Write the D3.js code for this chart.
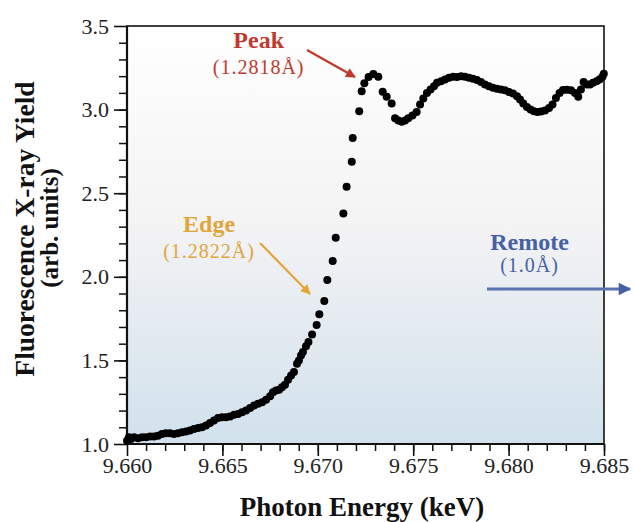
<!DOCTYPE html>
<html>
<head>
<meta charset="utf-8">
<script src="https://cdn.jsdelivr.net/npm/d3@7"></script>
<style>
  body { margin: 0; background: #fff; }
  text { font-family: "Liberation Serif", "DejaVu Serif", serif; }
</style>
</head>
<body>
<div id="chart"></div>
<script>
// photon energy (keV) and fluorescence yield
var energy = [9.66000, 9.66010, 9.66021, 9.66037, 9.66058, 9.66079, 9.66100, 9.66121, 9.66142, 9.66162,
  9.66183, 9.66204, 9.66225, 9.66246, 9.66267, 9.66288, 9.66309, 9.66330, 9.66351, 9.66372,
  9.66393, 9.66414, 9.66435, 9.66456, 9.66477, 9.66498, 9.66519, 9.66540, 9.66561, 9.66582,
  9.66603, 9.66624, 9.66645, 9.66666, 9.66687, 9.66708, 9.66729, 9.66750, 9.66765, 9.66781,
  9.66797, 9.66812, 9.66828, 9.66844, 9.66860, 9.66875, 9.66891, 9.66901, 9.66912, 9.66922,
  9.66938, 9.66951, 9.66970, 9.66994, 9.67008, 9.67034, 9.67050, 9.67078, 9.67094, 9.67134,
  9.67151, 9.67178, 9.67183, 9.67217, 9.67230, 9.67244, 9.67266, 9.67291, 9.67317, 9.67340,
  9.67361, 9.67387, 9.67405, 9.67422, 9.67440, 9.67457, 9.67474, 9.67496, 9.67518, 9.67536,
  9.67553, 9.67572, 9.67591, 9.67609, 9.67625, 9.67646, 9.67667, 9.67688, 9.67709, 9.67730,
  9.67751, 9.67771, 9.67792, 9.67813, 9.67834, 9.67855, 9.67876, 9.67897, 9.67918, 9.67939,
  9.67960, 9.67981, 9.68002, 9.68023, 9.68044, 9.68060, 9.68077, 9.68096, 9.68115, 9.68133,
  9.68151, 9.68170, 9.68191, 9.68212, 9.68230, 9.68248, 9.68267, 9.68285, 9.68306, 9.68327,
  9.68348, 9.68365, 9.68379, 9.68393, 9.68411, 9.68427, 9.68442, 9.68461, 9.68476, 9.68492,
  9.68499];

var yieldVals = [1.02, 1.04, 1.03, 1.04, 1.035, 1.04, 1.04, 1.045, 1.045, 1.05,
  1.06, 1.065, 1.065, 1.06, 1.065, 1.07, 1.075, 1.08, 1.09, 1.095,
  1.10, 1.11, 1.125, 1.14, 1.155, 1.16, 1.16, 1.165, 1.175, 1.18,
  1.19, 1.20, 1.215, 1.23, 1.24, 1.25, 1.265, 1.285, 1.31, 1.32,
  1.325, 1.34, 1.355, 1.385, 1.41, 1.43, 1.48, 1.50, 1.53, 1.55,
  1.585, 1.61, 1.655, 1.712, 1.776, 1.855, 1.981, 2.094, 2.234, 2.379,
  2.539, 2.688, 2.83, 2.99, 3.11, 3.157, 3.195, 3.213, 3.197, 3.107,
  3.077, 3.037, 2.948, 2.935, 2.928, 2.935, 2.948, 2.965, 2.985, 3.03,
  3.067, 3.10, 3.12, 3.14, 3.16, 3.17, 3.18, 3.19, 3.197, 3.195,
  3.20, 3.197, 3.19, 3.185, 3.177, 3.165, 3.15, 3.14, 3.13, 3.125,
  3.12, 3.115, 3.105, 3.097, 3.08, 3.06, 3.037, 3.015, 3.00, 2.99,
  2.985, 2.988, 2.995, 3.01, 3.03, 3.07, 3.10, 3.117, 3.118, 3.115,
  3.10, 3.077, 3.12, 3.165, 3.15, 3.15, 3.16, 3.17, 3.18, 3.197,
  3.215];

var xTicks = [9.660, 9.665, 9.670, 9.675, 9.680, 9.685];
var yTicks = [1.0, 1.5, 2.0, 2.5, 3.0, 3.5];

var labels = ["Peak", "Edge", "Remote"];
var subLabels = ["(1.2818\u00c5)", "(1.2822\u00c5)", "(1.0\u00c5)"];
var labelColors = ["#c0392e", "#e2a53a", "#4660a6"];

window.onload = function()
{
  drawChart();
}

function drawChart()
{
  var width = 634, height = 522;
  var pLeft = 127, pRight = 604, pTop = 26, pBottom = 444;

  var svg = d3.select("#chart").append("svg")
    .attr("width", width)
    .attr("height", height);

  var x = d3.scaleLinear().domain([9.660, 9.685]).range([pLeft, pRight]);
  var y = d3.scaleLinear().domain([1.0, 3.5]).range([pBottom, pTop]);

  var defs = svg.append("defs");
  var grad = defs.append("linearGradient")
    .attr("id", "bg").attr("x1", 0).attr("y1", 0).attr("x2", 0).attr("y2", 1);
  grad.append("stop").attr("offset", "0%").attr("stop-color", "#ffffff");
  grad.append("stop").attr("offset", "45%").attr("stop-color", "#f5f4f5");
  grad.append("stop").attr("offset", "100%").attr("stop-color", "#d1e1ec");

  labelColors.forEach(function(c, i) {
    defs.append("marker")
      .attr("id", "head" + i)
      .attr("viewBox", "0 0 10 10")
      .attr("refX", 9).attr("refY", 5)
      .attr("markerWidth", 6.5).attr("markerHeight", 4.5)
      .attr("markerUnits", "strokeWidth")
      .attr("orient", "auto")
      .append("path")
      .attr("d", "M0,0 L10,5 L0,10 z")
      .attr("fill", c);
  });

  svg.append("rect")
    .attr("x", pLeft).attr("y", pTop)
    .attr("width", pRight - pLeft).attr("height", pBottom - pTop)
    .attr("fill", "url(#bg)");

  // minor ticks
  svg.append("g")
    .attr("transform", "translate(0," + pBottom + ")")
    .call(d3.axisBottom(x).tickValues(d3.range(9.661, 9.685, 0.001)).tickSize(7).tickFormat(""))
    .call(function(g) { g.select(".domain").remove(); })
    .selectAll("line").attr("stroke", "#111").attr("stroke-width", 1.5);

  svg.append("g")
    .attr("transform", "translate(" + pLeft + ",0)")
    .call(d3.axisLeft(y).tickValues(d3.range(1.1, 3.5, 0.1)).tickSize(8).tickFormat(""))
    .call(function(g) { g.select(".domain").remove(); })
    .selectAll("line").attr("stroke", "#111").attr("stroke-width", 1.5);

  // major ticks with labels
  var xAxis = svg.append("g")
    .attr("transform", "translate(0," + pBottom + ")")
    .call(d3.axisBottom(x).tickValues(xTicks).tickSize(12).tickSizeOuter(0).tickPadding(1).tickFormat(d3.format(".3f")));
  xAxis.select(".domain").remove();
  xAxis.selectAll("line").attr("stroke", "#111").attr("stroke-width", 1.6);
  xAxis.selectAll("text").attr("font-size", 22).attr("fill", "#222")
    .attr("font-family", "Liberation Serif, serif");

  var yAxis = svg.append("g")
    .attr("transform", "translate(" + pLeft + ",0)")
    .call(d3.axisLeft(y).tickValues(yTicks).tickSize(13).tickSizeOuter(0).tickPadding(5).tickFormat(d3.format(".1f")));
  yAxis.select(".domain").remove();
  yAxis.selectAll("line").attr("stroke", "#111").attr("stroke-width", 1.6);
  yAxis.selectAll("text").attr("font-size", 22).attr("fill", "#222")
    .attr("font-family", "Liberation Serif, serif");

  // frame
  svg.append("rect")
    .attr("x", pLeft).attr("y", pTop)
    .attr("width", pRight - pLeft).attr("height", pBottom - pTop)
    .attr("fill", "none").attr("stroke", "#111").attr("stroke-width", 1.6);
  svg.append("line")
    .attr("x1", pLeft).attr("x2", pLeft).attr("y1", pTop).attr("y2", pBottom + 1)
    .attr("stroke", "#111").attr("stroke-width", 2.2);
  svg.append("line")
    .attr("x1", pLeft).attr("x2", pRight).attr("y1", pBottom).attr("y2", pBottom)
    .attr("stroke", "#111").attr("stroke-width", 2.2);

  // data points
  svg.append("g")
    .selectAll("circle")
    .data(energy)
    .enter().append("circle")
    .attr("cx", function(d) { return x(d); })
    .attr("cy", function(d, i) { return y(yieldVals[i]); })
    .attr("r", 4)
    .attr("fill", "#000");

  // axis titles
  svg.append("text")
    .attr("x", 362).attr("y", 516)
    .attr("text-anchor", "middle")
    .attr("font-size", 27).attr("font-weight", "bold").attr("fill", "#111")
    .text("Photon Energy (keV)");

  svg.append("text")
    .attr("transform", "translate(34,229) rotate(-90)")
    .attr("text-anchor", "middle")
    .attr("font-size", 27.5).attr("font-weight", "bold").attr("fill", "#111")
    .text("Fluorescence X-ray Yield");

  svg.append("text")
    .attr("transform", "translate(58,228) rotate(-90)")
    .attr("text-anchor", "middle")
    .attr("font-size", 25).attr("font-weight", "bold").attr("fill", "#111")
    .text("(arb. units)");

  // annotation label anchors, in data units
  var notes = [
    { tx: 9.66690, ty: 3.37, sy: 3.215 },
    { tx: 9.66430, ty: 2.265, sy: 2.11 },
    { tx: 9.68110, ty: 2.16, sy: 2.03 }
  ];

  notes.forEach(function(n, i) {
    svg.append("text")
      .attr("x", x(n.tx)).attr("y", y(n.ty))
      .attr("text-anchor", "middle")
      .attr("font-size", 24).attr("font-weight", "bold")
      .attr("fill", labelColors[i])
      .text(labels[i]);
    svg.append("text")
      .attr("x", x(n.tx)).attr("y", y(n.sy))
      .attr("text-anchor", "middle")
      .attr("font-size", 20).attr("letter-spacing", "1px")
      .attr("fill", labelColors[i])
      .text(subLabels[i]);
  });

  // arrows
  svg.append("line")
    .attr("x1", 307).attr("y1", 50).attr("x2", 355).attr("y2", 77)
    .attr("stroke", labelColors[0]).attr("stroke-width", 2.2)
    .attr("marker-end", "url(#head0)");
  svg.append("line")
    .attr("x1", 260).attr("y1", 243).attr("x2", 310).attr("y2", 294)
    .attr("stroke", labelColors[1]).attr("stroke-width", 2.2)
    .attr("marker-end", "url(#head1)");
  svg.append("line")
    .attr("x1", 487).attr("y1", 289).attr("x2", 630).attr("y2", 289)
    .attr("stroke", "#5b72b0").attr("stroke-width", 2.8)
    .attr("marker-end", "url(#head2)");
}
</script>
</body>
</html>
